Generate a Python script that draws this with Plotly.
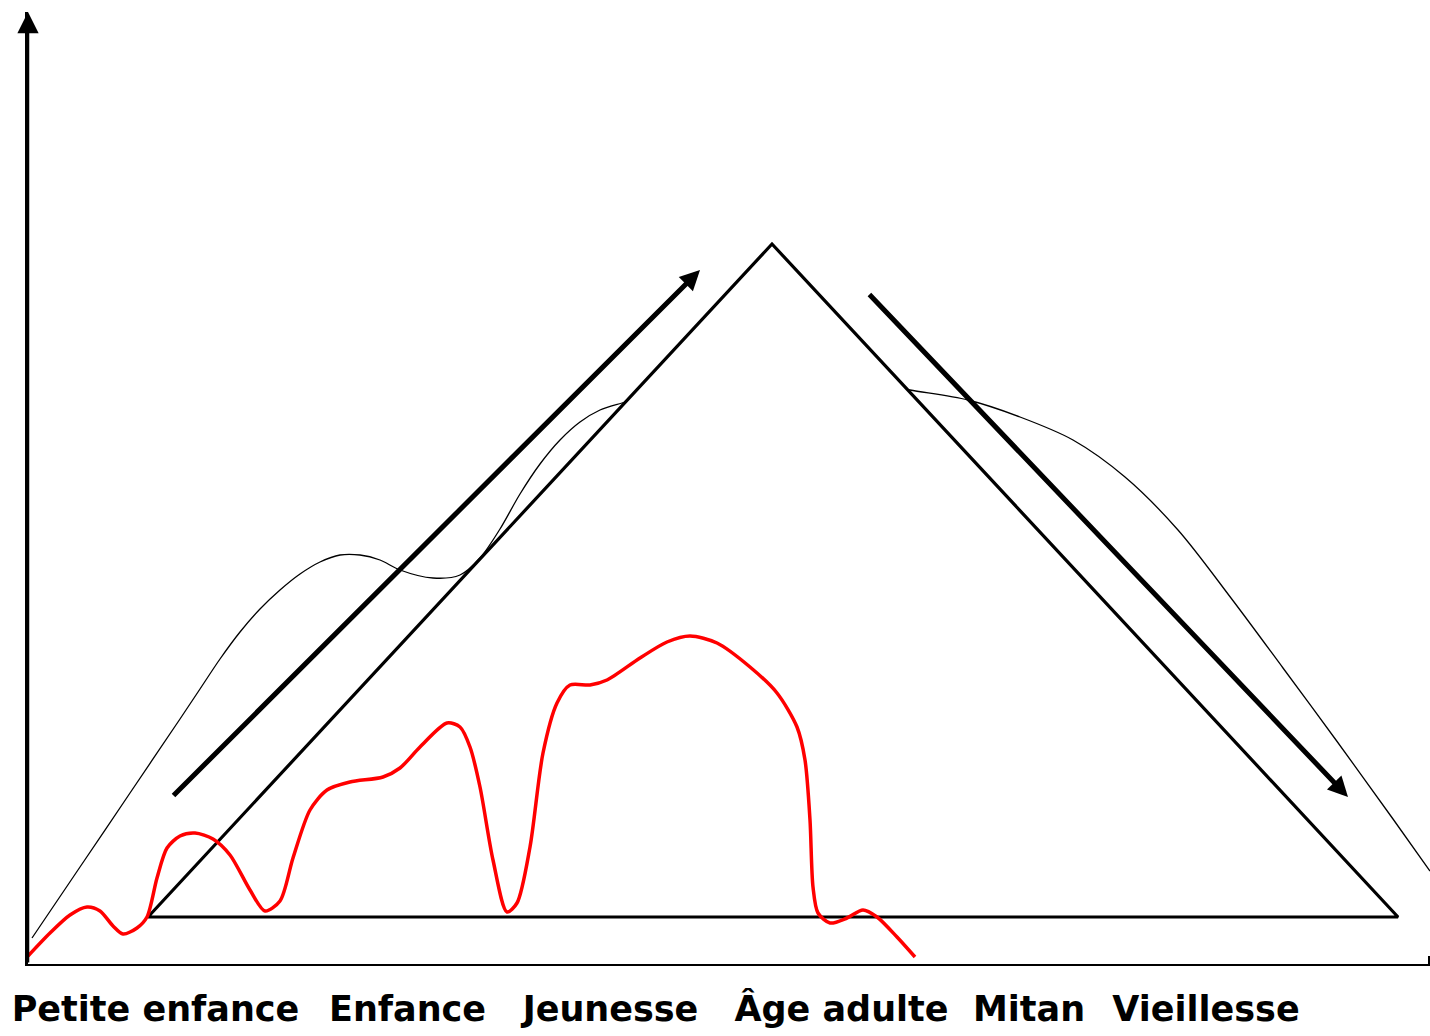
import plotly.graph_objects as go

# Life stages (x-axis labels) and their positions along the age axis
stages = ["Petite enfance", "Enfance", "Jeunesse", "Âge adulte", "Mitan", "Vieillesse"]
stage_pos = [12.75, 37.95, 58.25, 81.35, 100.1, 117.8]

# Thin black curve
thin_x = [0.4, 5.2, 10.2, 15.2, 17.2, 19.2, 21.2, 23.2, 25.2, 27.2, 29.2, 31.2, 33.2, 35.2,
          37.2, 40.5, 43.2, 45.2, 47.2, 49.2, 51.2, 53.2, 55.2, 57.2, 59.4, 65.0, 75.0,
          85.0, 88.2, 94.0, 99.2, 104.5, 109.7, 115.0, 120.3, 125.5, 130.8, 136.5, 140.2]
thin_y = [2.6, 9.7, 17.1, 24.5, 27.5, 30.5, 33.2, 35.5, 37.4, 39.0, 40.2, 40.9, 40.9, 40.4,
          39.4, 38.6, 38.9, 40.6, 43.5, 47.0, 50.0, 52.4, 54.2, 55.4, 56.1, 57.6, 58.4,
          58.0, 57.4, 56.4, 54.7, 52.4, 48.7, 43.4, 36.6, 29.6, 22.4, 14.5, 9.3]

# Triangle (pyramid)
tri_x = [12.0, 74.4, 137.0, 12.0]
tri_y = [4.7, 72.0, 4.7, 4.7]

# Red curve
red_x = [0, 2.2, 4.2, 5.9, 7.2, 8.5, 9.5, 10.9, 11.9, 12.9, 13.9, 15.2, 16.7, 18.5, 20.2,
         22.2, 23.7, 25.2, 26.5, 28.2, 29.9, 32.2, 35.5, 37.2, 39.2, 41.9, 43.2, 44.2, 45.2,
         46.5, 47.9, 48.9, 50.2, 51.5, 52.9, 54.2, 56.2, 57.9, 61.2, 63.9, 66.2, 68.9, 72.2,
         74.9, 76.9, 77.7, 78.2, 78.5, 79.0, 80.2, 81.9, 83.5, 84.9, 86.9, 88.7]
red_y = [0.8, 3.1, 4.9, 5.7, 5.3, 3.8, 3.0, 3.6, 4.7, 8.6, 11.6, 12.8, 13.1, 12.5, 10.9,
         7.4, 5.3, 6.3, 10.6, 15.4, 17.4, 18.2, 18.7, 19.6, 21.7, 24.1, 23.7, 21.7, 17.7,
         10.4, 5.2, 6.1, 11.7, 21.1, 26.1, 27.9, 27.9, 28.4, 30.6, 32.2, 32.8, 32.1, 29.7,
         27.1, 23.7, 20.4, 14.4, 7.7, 5.1, 4.1, 4.6, 5.4, 4.7, 2.7, 0.7]

# Arrows: (tail_x, tail_y, tip_x, tip_y)
arrow_up = (14.4, 16.7, 67.2, 69.4)
arrow_down = (84.0, 67.1, 132.0, 16.7)

X_MAX = 140.2
Y_MAX = 95.2

fig = go.Figure()
fig.add_trace(go.Scatter(x=thin_x, y=thin_y, mode="lines",
                         line=dict(color="black", width=1.3, shape="spline", smoothing=0.9),
                         hoverinfo="skip"))
fig.add_trace(go.Scatter(x=tri_x, y=tri_y, mode="lines", fill="toself", fillcolor="white",
                         line=dict(color="black", width=3.2), hoverinfo="skip"))
fig.add_trace(go.Scatter(x=red_x, y=red_y, mode="lines",
                         line=dict(color="#ff0000", width=3.5, shape="spline", smoothing=0.8),
                         hoverinfo="skip"))

anns = []
for (tx, ty, hx, hy) in (arrow_up, arrow_down):
    anns.append(dict(x=hx, y=hy, ax=tx, ay=ty, xref="x", yref="y", axref="x", ayref="y",
                     text="", showarrow=True, arrowhead=2, arrowsize=0.8, arrowwidth=5,
                     arrowcolor="black", standoff=0))
# y-axis arrow
anns.append(dict(x=0, y=Y_MAX, ax=0, ay=0, xref="x", yref="y", axref="x", ayref="y",
                 text="", showarrow=True, arrowhead=2, arrowsize=1.7, arrowwidth=2.5,
                 arrowcolor="black", standoff=0))

fig.update_layout(
    width=1430, height=1036,
    margin=dict(l=28, r=0, t=12, b=72),
    paper_bgcolor="white", plot_bgcolor="white",
    showlegend=False,
    annotations=anns,
    shapes=[dict(type="line", xref="x", yref="y", x0=X_MAX - 0.1, x1=X_MAX - 0.1,
                 y0=-0.8, y1=0.8, line=dict(color="black", width=2))],
    xaxis=dict(range=[0, X_MAX], showgrid=False, zeroline=False, showline=True,
               linecolor="black", linewidth=2, tickmode="array", tickvals=stage_pos,
               ticktext=stages, ticks="", ticklabelstandoff=13,
               tickfont=dict(family="DejaVu Sans", size=35, color="black", weight="bold")),
    yaxis=dict(range=[0, Y_MAX], showgrid=False, zeroline=False, showline=True,
               linecolor="black", linewidth=2.5, showticklabels=False, ticks=""),
)

fig.write_html("out.html", config={"displayModeBar": False},
               post_script="document.body.style.margin='0px';")
